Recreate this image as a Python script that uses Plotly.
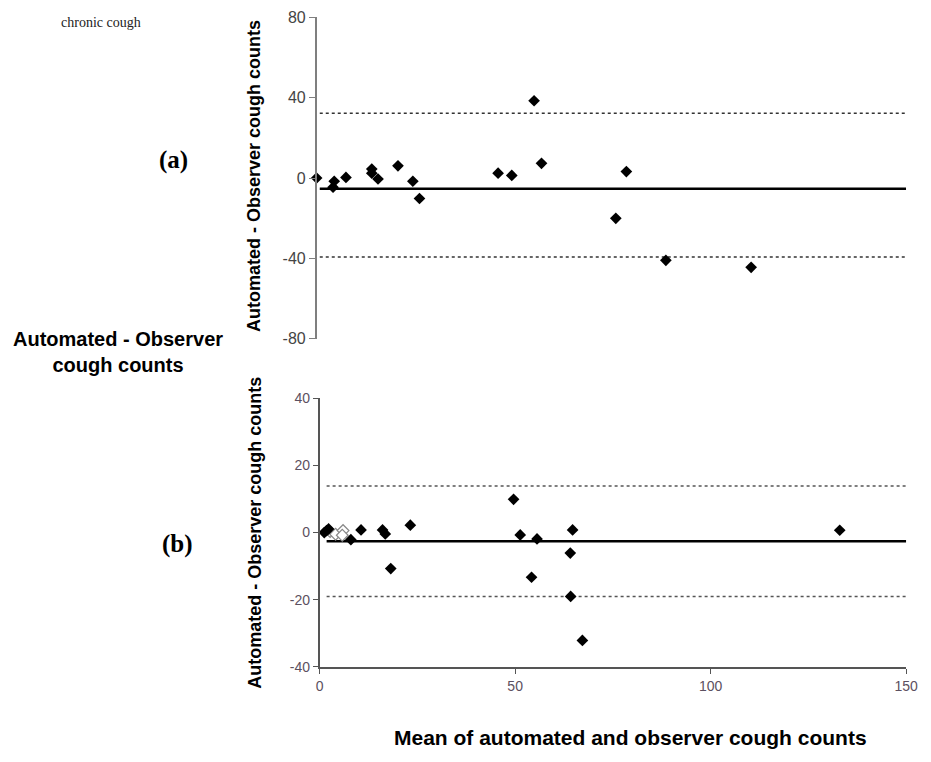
import plotly.graph_objects as go

# ---------------- data ----------------
# Panel (a)
a_x = [0.0, 4.5, 4.2, 7.5, 14.1, 14.1, 15.7, 20.8, 24.6, 26.3, 46.4, 49.9, 55.6, 57.5, 79.2, 76.5, 89.3, 111.1]
a_y = [0.0, -1.6, -4.6, 0.3, 4.5, 2.4, -0.5, 6.1, -1.6, -10.2, 2.4, 1.3, 38.5, 7.3, 3.2, -20.1, -41.0, -44.5]
a_line_x = [0.8, 150.7]
a_bias = -5.3
a_upper = 32.3
a_lower = -39.3
a_yticks = [-80, -40, 0, 40, 80]

# Panel (b)
b_x = [1.2, 1.8, 2.3, 8.0, 10.6, 16.1, 16.8, 18.2, 23.2, 49.6, 51.3, 54.2, 55.6, 64.7, 64.1, 64.2, 67.2, 133.0]
b_y = [0.0, 0.6, 1.1, -2.1, 0.8, 0.8, -0.4, -10.7, 2.2, 9.9, -0.7, -13.3, -1.9, 0.8, -6.1, -19.0, -32.1, 0.7]
b_open_x = [2.7, 4.1, 6.0, 5.8]
b_open_y = [0.3, -0.5, 0.6, -0.8]
b_line_x = [1.8, 150.0]
b_bias = -2.6
b_upper = 13.9
b_lower = -19.0
b_yticks = [-40, -20, 0, 20, 40]
b_xticks = [0, 50, 100, 150]

# page is drawn inside an 8px body margin
OFF = 8
W, H = 931 - OFF, 762 - OFF


def px_x(p):
    return (p - OFF) / W


def px_y(p):
    return 1 - (p - OFF) / H


fig = go.Figure()

# ---- panel (a) ----
fig.add_trace(go.Scatter(x=a_line_x, y=[a_bias, a_bias], mode="lines",
                         line=dict(color="black", width=2.5), xaxis="x", yaxis="y", showlegend=False))
for v in (a_upper, a_lower):
    fig.add_trace(go.Scatter(x=a_line_x, y=[v, v], mode="lines",
                             line=dict(color="#333333", width=1.5, dash="dot"),
                             xaxis="x", yaxis="y", showlegend=False))
fig.add_trace(go.Scatter(x=a_x, y=a_y, mode="markers",
                         marker=dict(symbol="diamond", size=9, color="black"),
                         xaxis="x", yaxis="y", showlegend=False, cliponaxis=False))

# ---- panel (b) ----
fig.add_trace(go.Scatter(x=b_line_x, y=[b_bias, b_bias], mode="lines",
                         line=dict(color="black", width=2.5), xaxis="x2", yaxis="y2", showlegend=False))
for v in (b_upper, b_lower):
    fig.add_trace(go.Scatter(x=b_line_x, y=[v, v], mode="lines",
                             line=dict(color="#555555", width=1.5, dash="dot"),
                             xaxis="x2", yaxis="y2", showlegend=False))
fig.add_trace(go.Scatter(x=b_open_x, y=b_open_y, mode="markers",
                         marker=dict(symbol="diamond", size=9, color="white",
                                     line=dict(color="#888888", width=1.2)),
                         xaxis="x2", yaxis="y2", showlegend=False, cliponaxis=False))
fig.add_trace(go.Scatter(x=b_x, y=b_y, mode="markers",
                         marker=dict(symbol="diamond", size=9, color="black"),
                         xaxis="x2", yaxis="y2", showlegend=False, cliponaxis=False))

narrow = "Liberation Sans Narrow, Arial Narrow, sans-serif"
sans = "Liberation Sans, Arial, sans-serif"
serif = "Liberation Serif, Times New Roman, serif"

fig.update_layout(
    width=W, height=H,
    margin=dict(l=0, r=0, t=0, b=0),
    paper_bgcolor="white", plot_bgcolor="white",
    xaxis=dict(domain=[px_x(318), px_x(318 + 151 * 3.98)], range=[0, 151],
               visible=False, anchor="y"),
    yaxis=dict(domain=[px_y(338), px_y(9.5)], range=[-80, 80], anchor="x",
               tickvals=a_yticks, ticktext=[str(v) for v in a_yticks],
               showline=True, linecolor="#7f7f7f", linewidth=1.5,
               ticks="outside", ticklen=6, tickcolor="#7f7f7f", tickwidth=1.2,
               showgrid=False, zeroline=False,
               tickfont=dict(family=narrow, size=16, color="#444444")),
    xaxis2=dict(domain=[px_x(321), px_x(918)], range=[0, 150], anchor="y2",
                tickvals=b_xticks, ticktext=[str(v) for v in b_xticks],
                showline=True, linecolor="#555555", linewidth=1.5,
                ticks="outside", ticklen=5, tickcolor="#555555",
                showgrid=False, zeroline=False,
                tickfont=dict(family=sans, size=14, color="#5c5060")),
    yaxis2=dict(domain=[px_y(674), px_y(399)], range=[-40, 40], anchor="x2",
                tickvals=b_yticks, ticktext=[str(v) for v in b_yticks],
                showline=True, linecolor="#555555", linewidth=1.5,
                ticks="outside", ticklen=5, tickcolor="#555555",
                showgrid=False, zeroline=False,
                tickfont=dict(family=sans, size=14, color="#5c5060")),
)

ann = [
    dict(text="chronic cough", x=px_x(56), y=px_y(15), xanchor="left", yanchor="middle",
         font=dict(family=serif, size=14, color="#222222")),
    dict(text="<b>(a)</b>", x=px_x(172), y=px_y(155), xanchor="center", yanchor="middle",
         font=dict(family=serif, size=25, color="black")),
    dict(text="<b>(b)</b>", x=px_x(176), y=px_y(548), xanchor="center", yanchor="middle",
         font=dict(family=serif, size=25, color="black")),
    dict(text="<b>Automated - Observer<br>cough counts</b>", x=px_x(116), y=px_y(352),
         xanchor="center", yanchor="middle", align="center",
         font=dict(family=sans, size=20, color="black")),
    dict(text="<b>Automated - Observer cough counts</b>", x=px_x(255), y=px_y(172),
         xanchor="center", yanchor="middle", textangle=-90,
         font=dict(family=sans, size=18, color="black")),
    dict(text="<b>Automated - Observer cough counts</b>", x=px_x(255), y=px_y(537),
         xanchor="center", yanchor="middle", textangle=-90,
         font=dict(family=sans, size=18, color="black")),
    dict(text="<b>Mean of automated and observer cough counts</b>", x=px_x(637), y=px_y(746),
         xanchor="center", yanchor="middle",
         font=dict(family=sans, size=21, color="black")),
]
for a in ann:
    a.update(xref="paper", yref="paper", showarrow=False)
fig.update_layout(annotations=ann)

fig.write_html("out.html")
